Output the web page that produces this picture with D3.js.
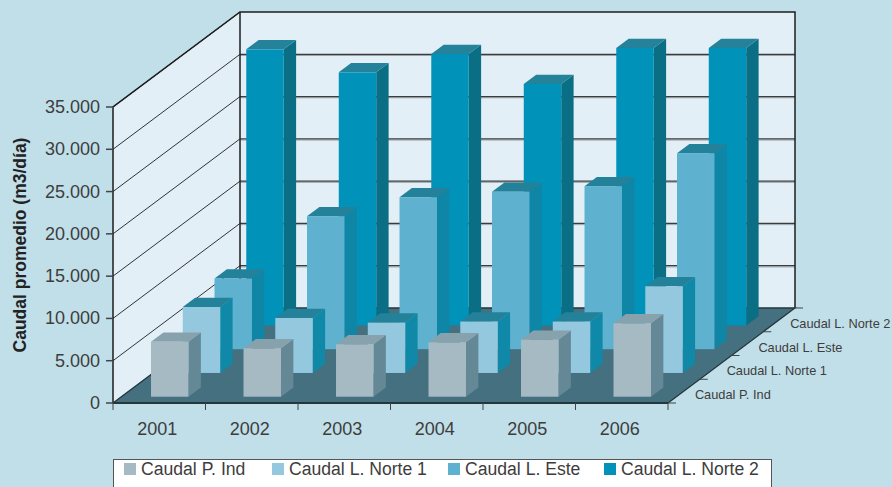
<!DOCTYPE html>
<html>
<head>
<meta charset="utf-8">
<script src="https://cdn.jsdelivr.net/npm/d3@7"></script>
<style>
  html, body { margin: 0; padding: 0; background: #c1dfe9; }
  svg { display: block; font-family: "Liberation Sans", Arial, sans-serif; }
</style>
</head>
<body>
<div id="chart"></div>
<script>
// categories and series
const years = ["2001", "2002", "2003", "2004", "2005", "2006"];
const seriesNames = ["Caudal P. Ind", "Caudal L. Norte 1", "Caudal L. Este", "Caudal L. Norte 2"];

// values (m3/día)
const pInd   = [6500, 5720, 6200, 6430, 6740, 8680];
const norte1 = [7800, 6500, 5950, 6080, 6080, 10250];
const este   = [8350, 15730, 17970, 18630, 19280, 23180];
const norte2 = [32650, 29930, 32100, 28560, 32810, 32810];

const yTicks = [0, 5000, 10000, 15000, 20000, 25000, 30000, 35000];

const seriesValues = [pInd, norte1, este, norte2];

// face colours per series: front, side, top
const colors = [
  { front: "#a6bac4", side: "#648896", top: "#87a1ad" },
  { front: "#93c8de", side: "#1089a8", top: "#23829a" },
  { front: "#5eb2cf", side: "#1086a6", top: "#23829a" },
  { front: "#0092b8", side: "#0a6e84", top: "#24829a" }
];

const W = 892, H = 487;
const svg = d3.select("#chart").append("svg")
  .attr("width", W).attr("height", H);

svg.append("rect").attr("width", W).attr("height", H).attr("fill", "#c1dfe9");

// front plane
const x = d3.scaleBand().domain(years).range([113, 668]);
const y = d3.scaleLinear().domain([0, 35000]).range([403, 107]);
// depth (oblique offset in px along x; y goes up by k per px)
const depth = d3.scaleBand().domain(seriesNames).range([0, 127]);
const k = 95 / 127;
const D = 127;

const fmt = v => d3.format(",")(v).replace(/,/g, ".");

const y0 = y(0), yTop = y(35000);
const xL = x.range()[0], xR = x.range()[1];

// left side wall
svg.append("polygon")
  .attr("points", [[xL, y0], [xL, yTop], [xL + D, yTop - D * k], [xL + D, y0 - D * k]].join(" "))
  .attr("fill", "#e2eff7");
// back wall
svg.append("rect")
  .attr("x", xL + D).attr("y", yTop - D * k)
  .attr("width", xR - xL).attr("height", y0 - yTop)
  .attr("fill", "#e2eff7");

// grid lines
yTicks.slice(1).forEach(t => {
  svg.append("line")
    .attr("x1", xL).attr("y1", y(t))
    .attr("x2", xL + D).attr("y2", y(t) - D * k)
    .attr("stroke", "#333").attr("stroke-width", 1);
  if (t < 35000) {
    svg.append("line")
      .attr("x1", xL + D).attr("y1", y(t) - D * k + 1.2)
      .attr("x2", xR + D).attr("y2", y(t) - D * k + 1.2)
      .attr("stroke", "#9aa4a8").attr("stroke-width", 1);
    svg.append("line")
      .attr("x1", xL + D).attr("y1", y(t) - D * k)
      .attr("x2", xR + D).attr("y2", y(t) - D * k)
      .attr("stroke", "#3c3c3c").attr("stroke-width", 1.3);
  }
});

// wall borders
svg.append("path")
  .attr("d", `M${xL},${y0} L${xL},${yTop} L${xL + D},${yTop - D * k} L${xR + D},${yTop - D * k} L${xR + D},${y0 - D * k}`)
  .attr("fill", "none").attr("stroke", "#1e1e1e").attr("stroke-width", 1.5);
svg.append("line")
  .attr("x1", xL + D).attr("y1", yTop - D * k)
  .attr("x2", xL + D).attr("y2", y0 - D * k)
  .attr("stroke", "#1e1e1e").attr("stroke-width", 1.5);

// floor
svg.append("polygon")
  .attr("points", [[xL, y0], [xR, y0], [xR + D, y0 - D * k], [xL + D, y0 - D * k]].join(" "))
  .attr("fill", "#44707f");
svg.append("path")
  .attr("d", `M${xL},${y0} L${xL + D},${y0 - D * k} L${xR + D},${y0 - D * k} L${xR},${y0}`)
  .attr("fill", "none").attr("stroke", "#25363d").attr("stroke-width", 1.3);

// bars, back row first
const bw = x.bandwidth() * 0.405;
const bOff = x.bandwidth() * 0.32;
const dFront = depth.bandwidth() * 0.265;
const dd = depth.bandwidth() * 0.39;

const gBars = svg.append("g");
d3.range(seriesNames.length).reverse().forEach(si => {
  const d0 = depth(seriesNames[si]) + dFront;
  const d1 = d0 + dd;
  const c = colors[si];
  seriesValues[si].forEach((v, ci) => {
    const X0 = x(years[ci]) + bOff + d0;
    const X1 = X0 + bw;
    const yt0 = y(v) - d0 * k, yb0 = y(0) - d0 * k;
    const yt1 = y(v) - d1 * k, yb1 = y(0) - d1 * k;
    const g = gBars.append("g");
    g.append("polygon")
      .attr("points", [[X1, yt0], [X1 + dd, yt1], [X1 + dd, yb1], [X1, yb0]].join(" "))
      .attr("fill", c.side);
    g.append("polygon")
      .attr("points", [[X0, yt0], [X1, yt0], [X1 + dd, yt1], [X0 + dd, yt1]].join(" "))
      .attr("fill", c.top);
    g.append("rect")
      .attr("x", X0).attr("y", yt0)
      .attr("width", bw).attr("height", yb0 - yt0)
      .attr("fill", c.front);
  });
});

// front axis line and ticks
svg.append("line")
  .attr("x1", xL).attr("y1", y0).attr("x2", xR).attr("y2", y0)
  .attr("stroke", "#25363d").attr("stroke-width", 2);
years.concat(["end"]).forEach((yr, i) => {
  const xx = i < years.length ? x(yr) : xR;
  svg.append("line")
    .attr("x1", xx).attr("y1", y0).attr("x2", xx).attr("y2", y0 + 7)
    .attr("stroke", "#444").attr("stroke-width", 1);
});
svg.selectAll("text.year").data(years).enter().append("text")
  .attr("class", "year")
  .attr("x", d => x(d) + x.bandwidth() / 2 - 2)
  .attr("y", 435)
  .attr("text-anchor", "middle")
  .attr("font-size", 18)
  .attr("fill", "#3d3d3d")
  .text(d => d);

// y axis ticks and labels
yTicks.forEach(t => {
  svg.append("line")
    .attr("x1", xL - 7).attr("y1", y(t)).attr("x2", xL).attr("y2", y(t))
    .attr("stroke", "#444").attr("stroke-width", 1.5);
  svg.append("text")
    .attr("x", 100).attr("y", y(t) + 6)
    .attr("text-anchor", "end")
    .attr("font-size", 18)
    .attr("fill", "#3d3d3d")
    .text(fmt(t));
});

// depth axis ticks and labels
d3.range(seriesNames.length + 1).forEach(i => {
  const dp = i * depth.step();
  svg.append("line")
    .attr("x1", xR + dp).attr("y1", y0 - dp * k)
    .attr("x2", xR + dp + 8).attr("y2", y0 - dp * k)
    .attr("stroke", "#444").attr("stroke-width", 1);
});
svg.selectAll("text.depth").data(seriesNames).enter().append("text")
  .attr("class", "depth")
  .attr("x", d => xR + depth(d) + depth.bandwidth() / 2 + 11)
  .attr("y", d => y0 - (depth(d) + depth.bandwidth() / 2) * k + 8)
  .attr("font-size", 12.8)
  .attr("fill", "#3d3d3d")
  .text(d => d);

// y axis title
svg.append("text")
  .attr("transform", "translate(26,245) rotate(-90)")
  .attr("text-anchor", "middle")
  .attr("font-size", 17.5)
  .attr("font-weight", "bold")
  .attr("fill", "#222")
  .text("Caudal promedio (m3/día)");

// legend
const legendX = [124, 272, 448, 604];
svg.append("rect")
  .attr("x", 113.5).attr("y", 459.5).attr("width", 658).attr("height", 40)
  .attr("fill", "#fff").attr("stroke", "#555").attr("stroke-width", 1);
const li = svg.selectAll("g.legend").data(seriesNames).enter().append("g")
  .attr("class", "legend")
  .attr("transform", (d, i) => `translate(${legendX[i]},0)`);
li.append("rect")
  .attr("x", 0).attr("y", 463).attr("width", 12).attr("height", 12)
  .attr("fill", (d, i) => colors[i].front);
li.append("text")
  .attr("x", 17).attr("y", 475)
  .attr("font-size", 17.6)
  .attr("fill", "#3d3d3d")
  .text(d => d);
</script>
</body>
</html>
